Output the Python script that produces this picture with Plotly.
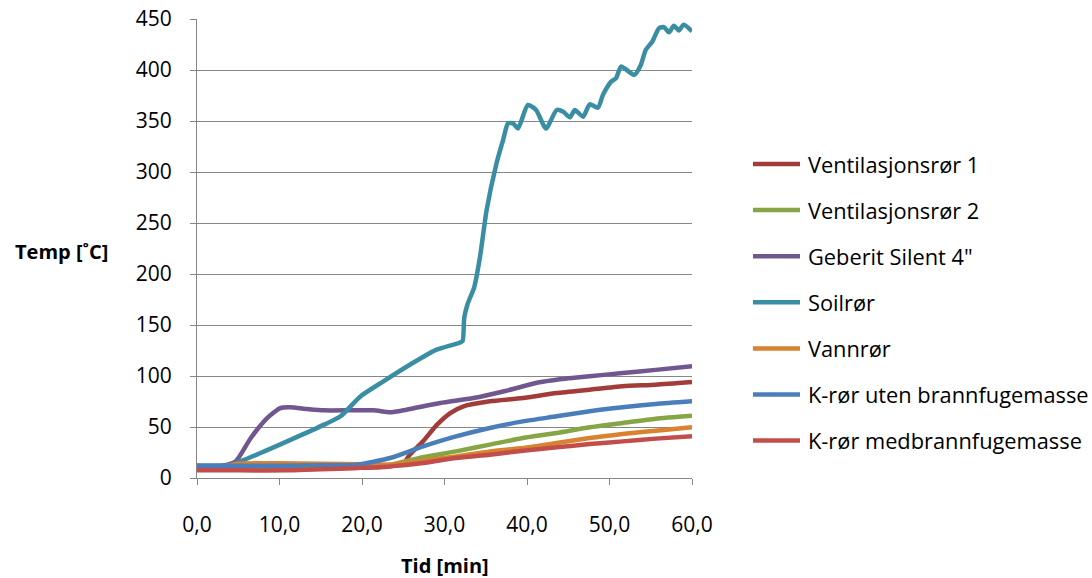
import plotly.graph_objects as go

# Time [min] and temperature [°C] per measured pipe
vent1_t = [0, 5, 10, 15, 20, 23, 25, 25.8, 27.4, 29.1, 30.7, 32.3, 35.5, 39.5, 43.6, 47.6, 51.6, 55.6, 60]
vent1_T = [9, 9, 9, 9.5, 10, 11, 14, 22.9, 36, 52.3, 63.7, 70.3, 75.2, 78.4, 83.3, 86.6, 89.9, 91.5, 94.1]

vent2_t = [0, 5, 10, 15, 20, 23.4, 27.4, 31.4, 35.5, 39.5, 43.6, 47.6, 51.6, 55.6, 60]
vent2_T = [10, 10, 10.5, 11, 12, 13, 20.3, 26.1, 32.7, 39.2, 44.1, 49.7, 53.9, 58.2, 61.1]

geberit_t = [0, 3, 4.7, 6.5, 8.5, 10.1, 11.3, 13.4, 15.4, 21.4, 23.4, 25.4, 29.5, 33.5, 37.5, 41.5, 43.6, 47.6, 51.6, 55.6, 60]
geberit_T = [12, 12, 16.4, 39, 58.8, 68.6, 69.3, 67.6, 66.3, 66.3, 64.4, 67, 73.5, 78.4, 85.6, 93.8, 96.4, 99.7, 103, 106, 109.5]

soil_t = [0, 3, 4.1, 7.7, 11.4, 15.4, 17.4, 19.8, 22.6, 25.8, 28.9, 31.9, 32.2, 32.4, 32.8, 33.6, 34.3, 35.1, 36.3, 37.1,
          37.7, 38.3, 38.9, 40.1, 41.1, 42.3, 43.6, 44.4, 45.2, 45.8, 46.8, 47.6, 48.6, 49.2, 50.2, 50.8, 51.4, 53.0,
          53.8, 54.4, 55.2, 56.0, 56.6, 57.2, 57.8, 58.4, 59.0, 60]
soil_T = [12, 12, 12.8, 24.5, 37.6, 52.3, 60.5, 80, 94.8, 111, 125.4, 132.9, 134.5, 157.5, 170.6, 187, 216.5, 262.4, 308.3, 331.3,
          347.7, 347.7, 342.7, 365.7, 360.8, 342.7, 360.8, 359, 353.6, 360.8, 354.2, 366.4, 363, 375.5, 388.6, 392, 403.4, 395.2,
          405, 419.8, 428, 441, 442, 436.9, 443.4, 438.8, 444.4, 437.9]

vann_t = [0, 3, 5, 10, 15, 20, 23.4, 27.4, 31.4, 35.5, 39.5, 43.6, 47.6, 51.6, 55.6, 60]
vann_T = [10, 11, 14, 14.5, 14, 13.5, 13, 16.9, 21.2, 26.1, 29.4, 34.3, 39.2, 43.1, 46.4, 49.7]

kuten_t = [0, 5, 10, 15, 19.4, 23.4, 27.4, 31.4, 35.5, 39.5, 43.6, 47.6, 51.6, 55.6, 60]
kuten_T = [12, 12, 12, 12.5, 13.1, 19.6, 31, 40.8, 49, 55.5, 60.5, 65.4, 69.3, 72.6, 75.2]

kmed_t = [0, 5, 11.3, 15, 19.4, 23.4, 27.4, 31.4, 35.5, 39.5, 43.6, 47.6, 51.6, 55.6, 60]
kmed_T = [7.5, 7.5, 7.5, 8.5, 9.8, 11.4, 14.7, 19.6, 22.9, 26.8, 30.1, 33.3, 35.9, 38.6, 40.9]

series_names = ["Ventilasjonsrør 1", "Ventilasjonsrør 2", "Geberit Silent 4\"", "Soilrør",
                "Vannrør", "K-rør uten brannfugemasse", "K-rør medbrannfugemasse"]
series_colors = ["#A23C3A", "#86A545", "#71578F", "#3A8EA3", "#D9822F", "#4A7EBB", "#C24E4C"]
series_data = [(vent1_t, vent1_T), (vent2_t, vent2_T), (geberit_t, geberit_T), (soil_t, soil_T),
               (vann_t, vann_T), (kuten_t, kuten_T), (kmed_t, kmed_T)]

y_ticks = [0, 50, 100, 150, 200, 250, 300, 350, 400, 450]
x_ticks = [0, 10, 20, 30, 40, 50, 60]
x_tick_text = ["0,0", "10,0", "20,0", "30,0", "40,0", "50,0", "60,0"]

FONT = "Open Sans"
W, H = 1092, 578
ML, MR, MT, MB = 197, 400, 19, 100
PW, PH = W - ML - MR, H - MT - MB


def px_x(x):
    return (x - ML) / PW


def px_y(y):
    return (H - MB - y) / PH


fig = go.Figure()
for name, color, (t, T) in zip(series_names, series_colors, series_data):
    fig.add_trace(go.Scatter(
        x=t, y=T, name=name, mode="lines", showlegend=False,
        line=dict(color=color, width=4.5, shape="spline", smoothing=0.6),
    ))

# legend drawn as short line samples with labels to the right
shapes = []
annotations = []
legend_top, legend_step = 164, 46.1
for i, (name, color) in enumerate(zip(series_names, series_colors)):
    yc = legend_top + i * legend_step
    shapes.append(dict(type="line", xref="paper", yref="paper",
                       x0=px_x(753), x1=px_x(800), y0=px_y(yc), y1=px_y(yc),
                       line=dict(color=color, width=4.5)))
    annotations.append(dict(text=name, x=px_x(806), y=px_y(yc), xref="paper", yref="paper",
                            xanchor="left", yanchor="middle", showarrow=False,
                            font=dict(family=FONT, size=21.8, color="#000000")))

annotations.append(dict(text="<b>Temp [˚C]</b>", x=px_x(61), y=px_y(251), xref="paper", yref="paper",
                        xanchor="center", yanchor="middle", showarrow=False,
                        font=dict(family=FONT, size=20, color="#000000")))
annotations.append(dict(text="<b>Tid [min]</b>", x=px_x(445), y=px_y(565), xref="paper", yref="paper",
                        xanchor="center", yanchor="middle", showarrow=False,
                        font=dict(family=FONT, size=20, color="#000000")))

fig.update_layout(
    width=W, height=H,
    margin=dict(l=ML, r=MR, t=MT, b=MB, autoexpand=False),
    paper_bgcolor="white", plot_bgcolor="white",
    font=dict(family=FONT, size=18, color="#000000"),
    showlegend=False,
    shapes=shapes,
    annotations=annotations,
    xaxis=dict(
        range=[0, 60], tickvals=x_ticks, ticktext=x_tick_text,
        showgrid=False, zeroline=False, automargin=False,
        showline=True, linecolor="#868686", linewidth=1,
        ticks="outside", ticklen=6, tickcolor="#868686",
        ticklabelstandoff=22,
        tickfont=dict(family=FONT, size=21),
    ),
    yaxis=dict(
        range=[0, 450], tickvals=y_ticks,
        showgrid=True, gridcolor="#868686", gridwidth=1,
        zeroline=False, automargin=False,
        showline=True, linecolor="#868686", linewidth=1,
        ticks="outside", ticklen=6, tickcolor="#868686",
        ticklabelstandoff=14,
        tickfont=dict(family=FONT, size=21),
    ),
)

fig.write_html("out.html")
